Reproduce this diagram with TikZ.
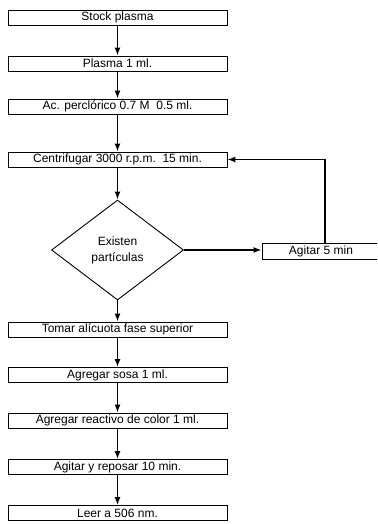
\documentclass[tikz,border=0pt]{standalone}
\usepackage{fontspec}
\setmainfont{Liberation Sans}
\usetikzlibrary{shapes.geometric,arrows.meta}

\tikzset{
    paso/.style={draw, line width=0.9pt, minimum width=219pt, minimum height=15pt, inner sep=0pt, font=\fontsize{12}{13}\selectfont},
    decision/.style={draw, diamond, line width=0.9pt, minimum width=132pt, minimum height=100pt, inner sep=0pt, align=center, font=\fontsize{12}{16}\selectfont},
    flecha/.style={line width=1.3pt, -{Latex[length=8pt,width=6pt]}}
}

\begin{document}
\begin{tikzpicture}[x=1pt, y=-1pt]
    \useasboundingbox (0, 0) rectangle (377, 524);
    \clip (0, 0) rectangle (377, 524);

    % preparacion de la muestra
    \node[paso] (stock) at (117.5, 17.5) {Stock plasma};
    \node[paso] (plasma) at (117.5, 63.5) {Plasma 1 ml.};
    \node[paso] (acido) at (117.5, 106.5) {Ac. perclórico 0.7 M\ \ 0.5 ml.};
    \node[paso] (centri) at (117.5, 159.5) {Centrifugar 3000 r.p.m.\ \ 15 min.};

    % decision
    \node[decision] (particulas) at (117.5, 250) {Existen\\partículas};
    \node[paso, minimum width=118pt, minimum height=16pt] (agitar) at (321, 251) {Agitar 5 min};

    % lectura
    \node[paso] (tomar) at (117.5, 329.5) {Tomar alícuota fase superior};
    \node[paso] (sosa) at (117.5, 375) {Agregar sosa 1 ml.};
    \node[paso] (reactivo) at (117.5, 420.5) {Agregar reactivo de color 1 ml.};
    \node[paso] (reposar) at (117.5, 467) {Agitar y reposar 10 min.};
    \node[paso] (leer) at (117.5, 513) {Leer a 506 nm.};

    % flechas
    \draw[flecha] (stock) -- (plasma);
    \draw[flecha] (plasma) -- (acido);
    \draw[flecha] (acido) -- (centri);
    \draw[flecha] (centri) -- (particulas);
    \draw[flecha] (particulas) -- (particulas -| agitar.west);
    \draw[flecha] ([xshift=4pt]agitar.north) |- (centri.east);
    \draw[flecha] (particulas) -- (tomar);
    \draw[flecha] (tomar) -- (sosa);
    \draw[flecha] (sosa) -- (reactivo);
    \draw[flecha] (reactivo) -- (reposar);
    \draw[flecha] (reposar) -- (leer);
\end{tikzpicture}
\end{document}
